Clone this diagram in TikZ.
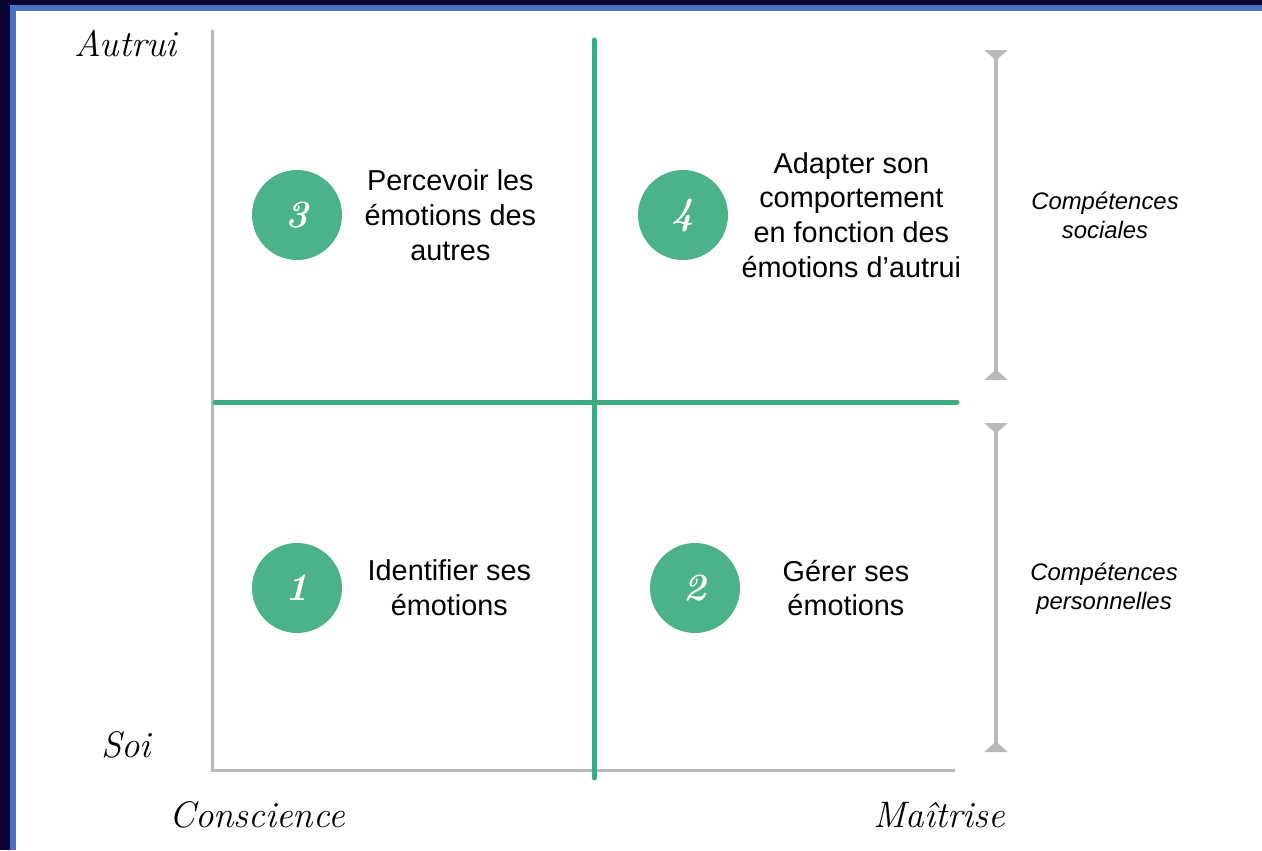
\documentclass[tikz,border=0pt]{standalone}
\usepackage{fontspec}
\usepackage{tikz}
\usetikzlibrary{positioning,arrows.meta}

\newfontfamily\helv{Liberation Sans}

\definecolor{navy}{RGB}{13,5,51}
\definecolor{frameblue}{RGB}{74,114,196}
\definecolor{qgreen}{RGB}{76,178,138}
\definecolor{linegreen}{RGB}{61,170,130}
\definecolor{axisgray}{RGB}{185,185,185}

\begin{document}
\begin{tikzpicture}
      [ x=0.02cm, y=-0.02cm,
        badge/.style={circle, fill=qgreen, minimum size=90*0.02cm, inner sep=0pt,
                      text=white, font=\bfseries\itshape\fontsize{22}{22}\selectfont},
        skill/.style={align=center, inner sep=0pt, font=\helv\fontsize{16.4}{19.8}\selectfont},
        side/.style={align=center, inner sep=0pt, font=\helv\itshape\fontsize{13.6}{16.4}\selectfont},
        hand/.style={inner sep=0pt, font=\itshape\fontsize{21}{21}\selectfont},
        crossline/.style={linegreen, line width=5*0.02cm, line cap=round},
        axisline/.style={axisgray, line width=3*0.02cm},
        brace/.style={axisgray, line width=4*0.02cm,
                      {Triangle[reversed,width=13pt,length=6pt]}-{Triangle[reversed,width=13pt,length=6pt]}}
      ]
      \useasboundingbox (0,0) rectangle (1262,850);
      % frame
      \fill[white] (0,0) rectangle (1262,850);
      \fill[navy] (0,0) rectangle (10,850);
      \fill[navy] (0,0) rectangle (1262,5);
      \fill[frameblue] (10,5) rectangle (16,850);
      \fill[frameblue] (10,5) rectangle (1262,11);

      % axes
      \coordinate (top)    at (212,30);
      \coordinate (origin) at (212,770);
      \coordinate (far)    at (955,770);
      \draw[axisline] (top) -- (origin) -- (far);

      % green cross
      \coordinate (vtop) at (594,40);
      \coordinate (vbot) at (594,778);
      \coordinate (hl)   at (215,402);
      \coordinate (hr)   at (957,402);
      \draw[crossline] (vtop) -- (vbot);
      \draw[crossline] (hl) -- (hr);

      % quadrants
      \node[badge]  (c3) at (297,215)                {3};
      \node[skill]  (t3) [right=22*0.02cm of c3]     {Percevoir les\\émotions des\\autres};
      \node[badge]  (c4) at (683,215)                {4};
      \node[skill]  (t4) [right=13*0.02cm of c4]     {Adapter son\\comportement\\en fonction des\\émotions d’autrui};
      \node[badge]  (c1) at (297,588)                {1};
      \node[skill]  (t1) [right=25*0.02cm of c1]     {Identifier ses\\émotions};
      \node[badge]  (c2) at (695,588)                {2};
      \node[skill]  (t2) [right=42*0.02cm of c2]     {Gérer ses\\émotions};

      % side braces
      \coordinate (s1) at (996,50);
      \coordinate (s2) at (996,380);
      \coordinate (p1) at (996,423);
      \coordinate (p2) at (996,752);
      \draw[brace] (s1) -- (s2);
      \draw[brace] (p1) -- (p2);
      \node[side] (soc)  at (1105,215) {Compétences\\sociales};
      \node[side] (pers) at (1104,589) {Compétences\\personnelles};

      % axis labels
      \node[hand] (autrui)  at (126,44)  {Autrui};
      \node[hand] (soi)     at (126,745) {Soi};
      \node[hand] (consc)   at (257,815) {Conscience};
      \node[hand] (maitr)   at (939,815) {Maîtrise};
\end{tikzpicture}
\end{document}
